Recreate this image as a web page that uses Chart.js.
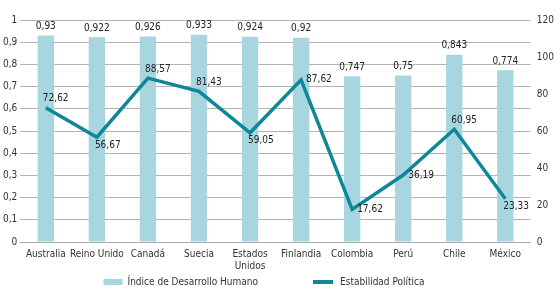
<!DOCTYPE html>
<html>
<head>
<meta charset="utf-8">
<script src="https://cdn.jsdelivr.net/npm/chart.js@4"></script>
<style>
  html, body { margin: 0; padding: 0; background: #fff; }
  #wrap { width: 560px; height: 290px; }
</style>
</head>
<body>
<div id="wrap"><canvas id="myChart" width="560" height="290"></canvas></div>
<script>
// data
const paises = ['Australia', 'Reino Unido', 'Canadá', 'Suecia', ['Estados', 'Unidos'], 'Finlandia', 'Colombia', 'Perú', 'Chile', 'México'];
const idh = [0.93, 0.922, 0.926, 0.933, 0.924, 0.92, 0.747, 0.75, 0.843, 0.774];
const estabilidad = [72.62, 56.67, 88.57, 81.43, 59.05, 87.62, 17.62, 36.19, 60.95, 23.33];
const idhTicks = [0, 0.1, 0.2, 0.3, 0.4, 0.5, 0.6, 0.7, 0.8, 0.9, 1];
const estTicks = [0, 20, 40, 60, 80, 100, 120];

// where each line label sits relative to its point
const lineLabelPos = ['ne', 'se', 'ne', 'ne', 'se', 'e', 'e', 'e', 'ne', 'se'];

const FONT = "'DejaVu Sans Condensed', 'Liberation Sans Narrow', Arial, sans-serif";
const TEXT = '#333';
const BAR_COLOR = '#a7d5e0';
const LINE_COLOR = '#0e8799';

function comma(v) { return String(v).replace('.', ','); }

const valueLabels = {
    id: 'valueLabels',
    afterDatasetsDraw(chart) {
        const ctx = chart.ctx;
        ctx.save();
        ctx.font = '10px ' + FONT;
        ctx.fillStyle = '#222';
        // bars
        chart.getDatasetMeta(0).data.forEach((bar, i) => {
            ctx.textAlign = 'center';
            ctx.textBaseline = 'bottom';
            ctx.fillText(comma(idh[i]), bar.x, bar.y - 4);
        });
        // line
        chart.getDatasetMeta(1).data.forEach((pt, i) => {
            const pos = lineLabelPos[i];
            ctx.textAlign = 'left';
            let x = pt.x, y = pt.y;
            if (pos === 'ne') { x -= 3; y -= 4; ctx.textBaseline = 'bottom'; }
            else if (pos === 'se') { x -= 2; y += 3; ctx.textBaseline = 'top'; }
            else { x += 5; ctx.textBaseline = 'middle'; }
            ctx.fillText(comma(estabilidad[i].toFixed(2)), x, y);
        });
        ctx.restore();
    }
};

// bottom legend drawn by hand so the gap between the two items can be wide
const bottomLegend = {
    id: 'bottomLegend',
    afterDraw(chart) {
        const ctx = chart.ctx;
        const ds = chart.data.datasets;
        ctx.save();
        ctx.font = '10px ' + FONT;
        ctx.textBaseline = 'middle';
        ctx.textAlign = 'left';
        const w0 = ctx.measureText(ds[0].label).width;
        const w1 = ctx.measureText(ds[1].label).width;
        const total = 19 + 5 + w0 + 55 + 20 + 7 + w1;
        let x = chart.width / 2 - 16 - total / 2;
        const y = 282;
        ctx.fillStyle = BAR_COLOR;
        ctx.fillRect(x, y - 3, 19, 6);
        x += 24;
        ctx.fillStyle = TEXT;
        ctx.fillText(ds[0].label, x, y);
        x += w0 + 55;
        ctx.strokeStyle = LINE_COLOR;
        ctx.lineWidth = 4;
        ctx.beginPath();
        ctx.moveTo(x, y);
        ctx.lineTo(x + 20, y);
        ctx.stroke();
        x += 27;
        ctx.fillText(ds[1].label, x, y);
        ctx.restore();
    }
};

new Chart(document.getElementById('myChart'), {
    data: {
        labels: paises,
        datasets: [{
            type: 'bar',
            label: 'Índice de Desarrollo Humano',
            data: idh,
            backgroundColor: BAR_COLOR,
            yAxisID: 'y',
            categoryPercentage: 1,
            barPercentage: 0.32,
            order: 2
        }, {
            type: 'line',
            label: 'Estabilidad Política',
            data: estabilidad,
            borderColor: LINE_COLOR,
            backgroundColor: LINE_COLOR,
            borderWidth: 3.5,
            pointRadius: 0,
            tension: 0,
            yAxisID: 'y1',
            order: 1
        }]
    },
    options: {
        responsive: false,
        animation: false,
        devicePixelRatio: 1,
        layout: { padding: { top: 20, left: 0, right: 0, bottom: 12 } },
        plugins: {
            tooltip: { enabled: false },
            legend: { display: false }
        },
        scales: {
            x: {
                grid: { display: false, drawTicks: false },
                border: { color: '#aaa' },
                ticks: { color: TEXT, font: { family: FONT, size: 10 }, maxRotation: 0, autoSkip: false, padding: 6 }
            },
            y: {
                position: 'left',
                min: 0,
                max: 1,
                afterBuildTicks: (axis) => { axis.ticks = idhTicks.map(v => ({ value: v })); },
                grid: { color: '#b4b4b4', drawTicks: false },
                border: { display: false },
                ticks: {
                    color: TEXT, font: { family: FONT, size: 10 }, padding: 3,
                    callback: (v) => comma(v)
                }
            },
            y1: {
                position: 'right',
                min: 0,
                max: 120,
                afterBuildTicks: (axis) => { axis.ticks = estTicks.map(v => ({ value: v })); },
                grid: { display: false, drawTicks: false },
                border: { display: false },
                ticks: { color: TEXT, font: { family: FONT, size: 10 }, padding: 6 }
            }
        }
    },
    plugins: [valueLabels, bottomLegend]
});
</script>
</body>
</html>
